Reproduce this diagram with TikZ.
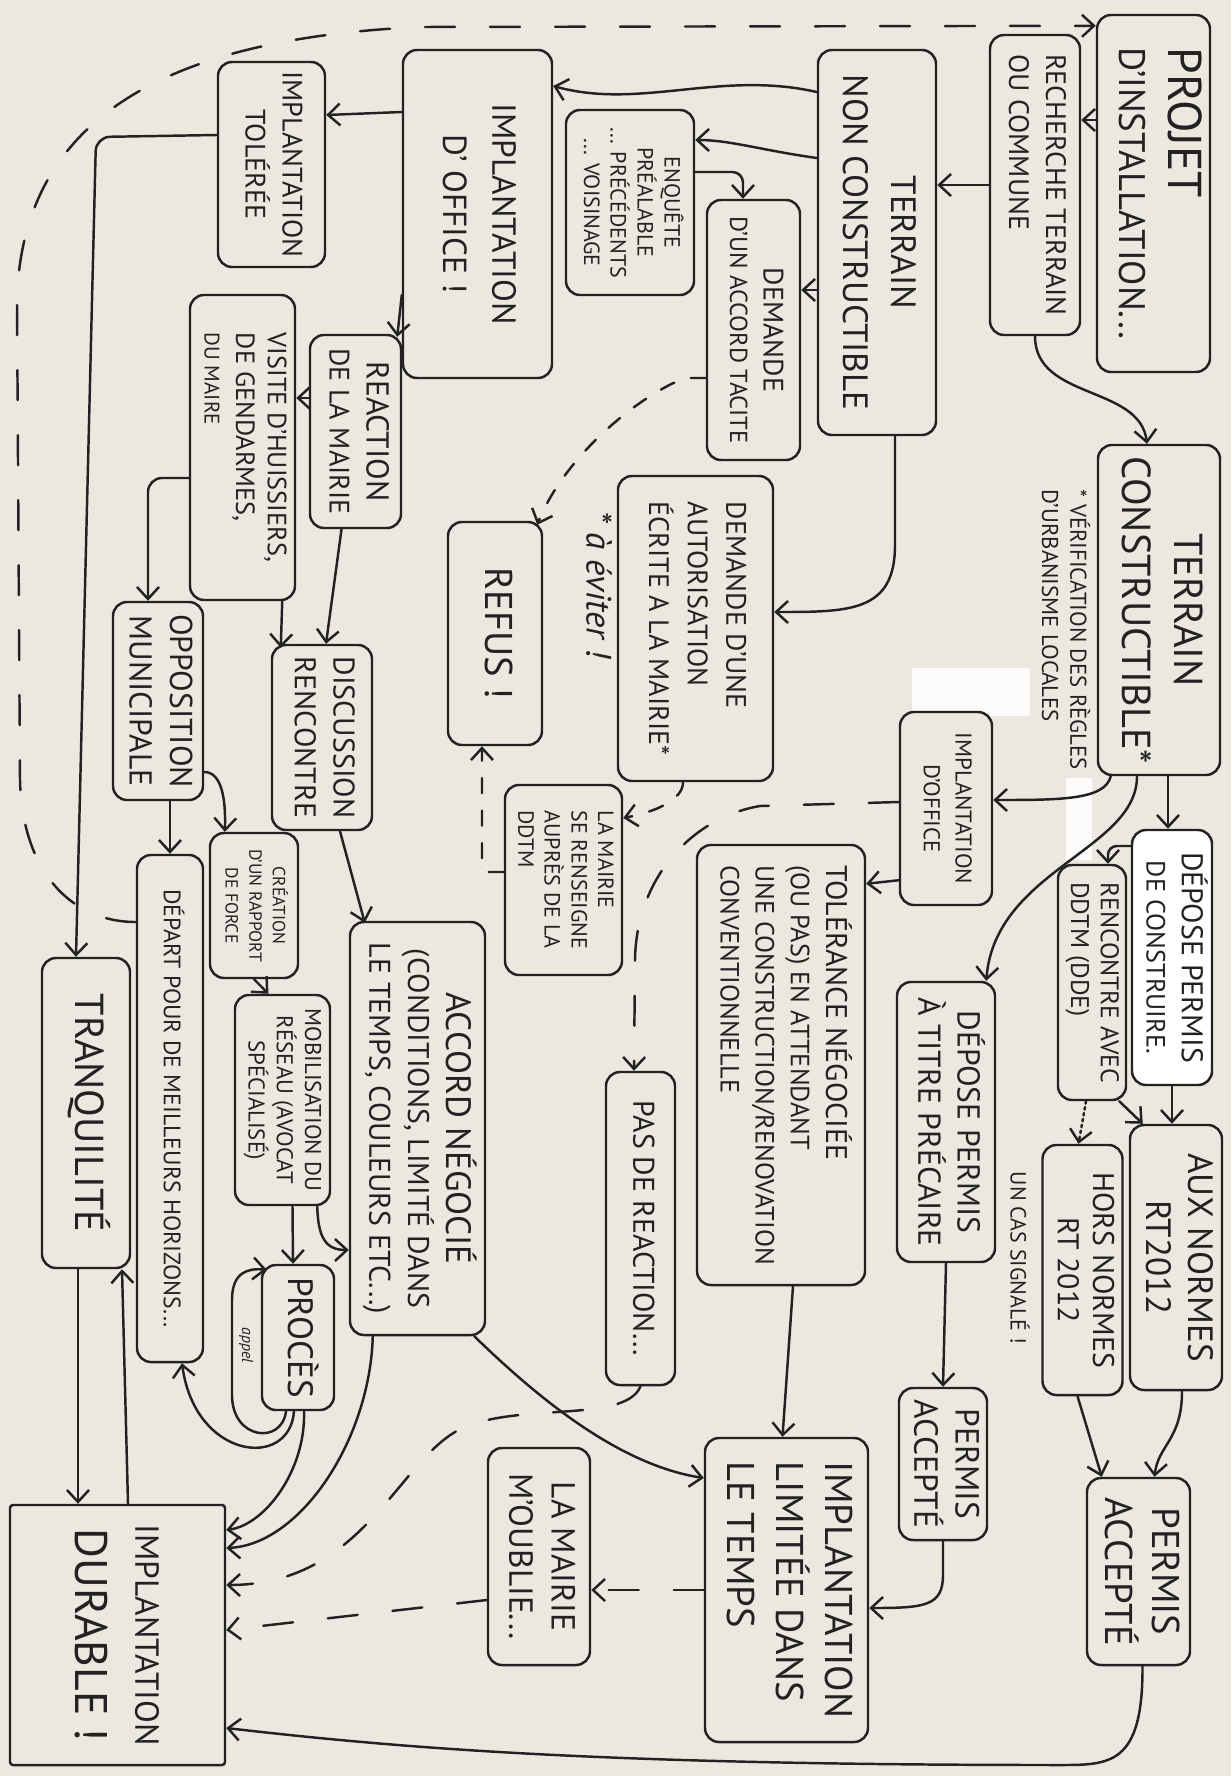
\documentclass[tikz,border=0pt]{standalone}
\usepackage{fontspec}
\setmainfont{PT Sans}
\usetikzlibrary{calc,arrows.meta}
\definecolor{paper}{HTML}{ECE8DF}
\definecolor{ink}{HTML}{222222}
\newcommand{\vt}[2][c]{\rotatebox{-90}{\begin{tabular}{@{}#1@{}}#2\end{tabular}}}
\newcommand{\fs}[2]{\fontsize{#1}{#2}\selectfont}

\begin{document}
\begin{tikzpicture}[x=0.2mm,y=-0.2mm,
    box/.style={draw=ink,fill=paper,rounded corners=2.8mm,line width=1.4pt,inner sep=0pt,text=ink},
    arr/.style={draw=ink,line width=1.4pt,line cap=round,-{Straight Barb[length=2.4mm,width=4.4mm]}},
    dsh/.style={arr,dash pattern=on 6mm off 7mm},
    dshs/.style={arr,dash pattern=on 3mm off 3.5mm},
    note/.style={inner sep=0pt,text=ink}]
                      \fill[paper] (0,0) rectangle (1231,1776);
                      \useasboundingbox (0,0) rectangle (1231,1776);
                      \fill[white,opacity=0.85] (912,668) rectangle (1030,716);
                      \fill[white,opacity=0.85] (1066,778) rectangle (1092,860);

                      \node[box,minimum width=22.6mm,minimum height=71.4mm,font=\fs{21}{28}] (projet) at (1153.5,193.5) {\vt[l]{{\fs{27}{28}PROJET}\\D'INSTALLATION...}};
                      \node[box,minimum width=18mm,minimum height=60mm,font=\fs{16}{21}] (recherche) at (1035,185) {\vt[l]{RECHERCHE TERRAIN\\OU COMMUNE}};
                      \node[box,minimum width=23.6mm,minimum height=77mm,font=\fs{20}{27}] (nonconstr) at (877,242.5) {\vt{TERRAIN\\NON CONSTRUCTIBLE}};
                      \node[box,minimum width=29.8mm,minimum height=65.6mm,font=\fs{19}{28}] (office1) at (477.5,214) {\vt{IMPLANTATION\\D' OFFICE !}};
                      \node[box,minimum width=21.4mm,minimum height=41mm,font=\fs{16}{21}] (toleree) at (271.5,164.5) {\vt{IMPLANTATION\\TOLÉRÉE}};
                      \node[box,minimum width=25.6mm,minimum height=37mm,font=\fs{12.5}{15}] (enquete) at (630,202.5) {\vt{ENQUÊTE\\PRÉALABLE\\... PRÉCÉDENTS\\... VOISINAGE}};
                      \node[box,minimum width=18.6mm,minimum height=52mm,font=\fs{14}{19}] (tacite) at (753.5,330) {\vt{{\fs{16}{19}DEMANDE}\\D'UN ACCORD TACITE}};
                      \node[box,minimum width=31mm,minimum height=61mm,font=\fs{16}{22}] (ecrite) at (695.5,628.5) {\vt[l]{DEMANDE D'UNE\\AUTORISATION\\ÉCRITE A LA MAIRIE*}};
                      \node[box,minimum width=18.8mm,minimum height=44.6mm,font=\fs{22}{26}] (refus) at (495,633.5) {\vt{REFUS !}};
                      \node[box,minimum width=18.2mm,minimum height=38.6mm,font=\fs{16}{21}] (reaction) at (355.5,431.5) {\vt{{\fs{18}{21}REACTION}\\DE LA MAIRIE}};
                      \node[box,minimum width=21mm,minimum height=61mm,font=\fs{15}{18}] (visite) at (242.5,447.5) {\vt[l]{VISITE D'HUISSIERS,\\DE GENDARMES,\\{\fs{12}{18}DU MAIRE}}};
                      \node[box,minimum width=18mm,minimum height=39.6mm,font=\fs{18}{23}] (opposition) at (158,701) {\vt{OPPOSITION\\MUNICIPALE}};
                      \node[box,minimum width=20mm,minimum height=37mm,font=\fs{17}{22}] (discussion) at (322,737.5) {\vt{DISCUSSION\\RENCONTRE}};
                      \node[box,minimum width=17.6mm,minimum height=29mm,font=\fs{10}{13.5}] (creation) at (254,905.5) {\vt{CRÉATION\\D'UN RAPPORT\\DE FORCE}};
                      \node[box,minimum width=13.2mm,minimum height=101.4mm,font=\fs{13.5}{16}] (depart) at (170,1108.5) {\vt[l]{DÉPART POUR DE MEILLEURS HORIZONS...}};
                      \node[box,minimum width=17.6mm,minimum height=62mm,font=\fs{23}{26}] (tranq) at (86,1113) {\vt{TRANQUILITÉ}};
                      \node[box,minimum width=19mm,minimum height=42mm,font=\fs{13}{16}] (mobil) at (282.5,1100) {\vt{MOBILISATION DU\\RÉSEAU (AVOCAT\\SPÉCIALISÉ)}};
                      \node[box,minimum width=14.4mm,minimum height=29mm,font=\fs{20}{22}] (proces) at (298,1337.5) {\vt{PROCÈS}};
                      \node[box,minimum width=27mm,minimum height=82.6mm,font=\fs{17}{22}] (accord) at (417.5,1128.5) {\vt{{\fs{20}{22}ACCORD NÉGOCIÉ}\\(CONDITIONS, LIMITÉ DANS\\LE TEMPS, COULEURS ETC...)}};
                      \node[box,minimum width=23.4mm,minimum height=38mm,font=\fs{12.5}{15}] (ddtmrens) at (563.5,880) {\vt[l]{LA MAIRIE\\SE RENSEIGNE\\AUPRÈS DE LA\\DDTM}};
                      \node[box,minimum width=13.8mm,minimum height=62.6mm,font=\fs{17}{20}] (pasreac) at (640.5,1228.5) {\vt{PAS DE REACTION...}};
                      \node[box,minimum width=33.6mm,minimum height=88mm,font=\fs{15}{20}] (tolerance) at (781,1065) {\vt[l]{{\fs{17}{20}TOLÉRANCE NÉGOCIÉE}\\(OU PAS) EN ATTENDANT\\UNE CONSTRUCTION/RENOVATION\\CONVENTIONNELLE}};
                      \node[box,minimum width=18.4mm,minimum height=38.6mm,font=\fs{13}{18}] (office2) at (946,808.5) {\vt{IMPLANTATION\\D'OFFICE}};
                      \node[box,minimum width=24.4mm,minimum height=66mm,font=\fs{23}{30}] (constr) at (1159,610) {\vt{TERRAIN\\CONSTRUCTIBLE*}};
                      \node[box,fill=white,minimum width=16mm,minimum height=51mm,font=\fs{15}{20}] (depose) at (1172,957.5) {\vt{{\fs{17}{20}DÉPOSE PERMIS}\\DE CONSTRUIRE.}};
                      \node[box,minimum width=13.6mm,minimum height=47mm,font=\fs{14.5}{17}] (ddtm) at (1092,982.5) {\vt[l]{RENCONTRE AVEC\\DDTM (DDE)}};
                      \node[box,minimum width=19.6mm,minimum height=56mm,font=\fs{18}{22}] (precaire) at (946,1122) {\vt{DÉPOSE PERMIS\\À TITRE PRÉCAIRE}};
                      \node[box,minimum width=18.4mm,minimum height=53mm,font=\fs{20}{24}] (aux) at (1176,1257.5) {\vt{AUX NORMES\\RT2012}};
                      \node[box,minimum width=16mm,minimum height=50mm,font=\fs{17}{20}] (hors) at (1082.5,1270) {\vt{HORS NORMES\\RT 2012}};
                      \node[box,minimum width=20.6mm,minimum height=37.4mm,font=\fs{22}{27}] (accepte1) at (1138.5,1571.5) {\vt{PERMIS\\ACCEPTÉ}};
                      \node[box,minimum width=17.6mm,minimum height=30.4mm,font=\fs{19}{23}] (accepte2) at (943,1464) {\vt{PERMIS\\ACCEPTÉ}};
                      \node[box,minimum width=32.6mm,minimum height=60.8mm,font=\fs{22}{28}] (limitee) at (786.5,1590) {\vt[l]{IMPLANTATION\\LIMITÉE DANS\\LE TEMPS}};
                      \node[box,minimum width=20.4mm,minimum height=43.4mm,font=\fs{19}{24}] (oublie) at (539,1556.5) {\vt{LA MAIRIE\\M'OUBLIE...}};
                      \node[box,rounded corners=0.6mm,minimum width=43mm,minimum height=52mm,font=\fs{19}{34}] (durable) at (117.5,1635) {\vt{IMPLANTATION\\{\fs{26}{34}DURABLE !}}};

                      \node[note,font=\fs{13}{16}] (verif) at (1062,630) {\vt[l]{* VÉRIFICATION DES RÈGLES\\D'URBANISME LOCALES}};
                      \node[note,font=\itshape\fs{20}{22}] (eviter) at (599,585) {\rotatebox{-90}{* à éviter !}};
                      \node[note,font=\fs{12.5}{14}] (uncas) at (1020,1258) {\rotatebox{-90}{UN CAS SIGNALÉ !}};
                      \node[note,font=\itshape\fs{9}{10}] (appel) at (246,1345) {\rotatebox{-90}{appel}};

                      \draw[arr] (projet.west |- 0,120) -- (recherche.east |- 0,120);
                      \draw[arr] (recherche.west |- 0,185) -- (nonconstr.east |- 0,185);
                      \draw[arr] (recherche.south) .. controls (1035,400) and (1140,385) .. ($(constr.north)+(-12,0)$);
                      \draw[arr] (nonconstr.west |- 0,92) .. controls (720,70) and (640,110) .. (office1.east |- 0,86);
                      \draw[arr] (nonconstr.west |- 0,158) .. controls (760,150) and (730,140) .. (enquete.east |- 0,140);
                      \draw[arr,rounded corners=6] (enquete.east |- 0,172) -- (743,172) -- (tacite.north -| 743,0);
                      \draw[arr] (nonconstr.west |- 0,290) -- (tacite.east |- 0,290);
                      \draw[arr] (nonconstr.south -| 895,0) -- (895,545) .. controls (895,612) and (850,612) .. (ecrite.east |- 0,612);
                      \draw[arr] (office1.west |- 0,295) -- ($(reaction.north east)+(-5,3)$);
                      \draw[arr] (office1.west |- 0,112) -- (toleree.east |- 0,115);
                      \draw[arr,rounded corners=8] (toleree.west |- 0,135) -- (96,137) -- (tranq.north -| 76,0);
                      \draw[arr] (reaction.west |- 0,398) -- (visite.east |- 0,398);
                      \draw[arr] ($(reaction.south)+(-14,0)$) -- ($(discussion.north)+(4,0)$);
                      \draw[arr] ($(visite.south east)+(-14,0)$) -- ($(discussion.north west)+(10,4)$);
                      \draw[arr,rounded corners=8] (visite.west |- 0,478) -- (148,478) -- (opposition.north -| 148,0);
                      \draw[arr] (opposition.south -| 170,0) -- (depart.north -| 170,0);
                      \draw[arr] (opposition.east |- 0,772) .. controls (222,772) and (226,800) .. ($(creation.north west)+(16,0)$);
                      \draw[arr] ($(discussion.south)+(18,0)$) -- ($(accord.north west)+(16,2)$);
                      \draw[arr] (creation.south) -- ($(mobil.north)+(-14,0)$);
                      \draw[arr] ($(mobil.south)+(10,0)$) -- ($(proces.north)+(-5,0)$);
                      \draw[arr] ($(mobil.south east)+(-14,0)$) .. controls (318,1238) and (326,1250) .. (accord.west |- 0,1250);
                      \draw[arr] ($(proces.south)+(-12,0)$) .. controls (282,1445) and (232,1440) .. (232,1395) -- (232,1300) .. controls (232,1272) and (248,1268) .. ($(proces.north west)+(6,6)$);
                      \draw[arr] ($(proces.south)+(-4,0)$) .. controls (290,1470) and (195,1460) .. ($(depart.south)+(12,0)$);
                      \draw[arr] ($(proces.south)+(6,0)$) .. controls (306,1470) and (265,1525) .. (durable.east |- 0,1530);
                      \draw[arr] ($(accord.south west)+(24,0)$) .. controls (370,1440) and (300,1545) .. (durable.east |- 0,1548);
                      \draw[arr] ($(accord.south east)+(-12,0)$) .. controls (540,1400) and (620,1465) .. (limitee.west |- 0,1478);
                      \draw[arr] (tranq.south -| 78,0) -- (durable.north -| 78,0);
                      \draw[arr] (durable.north -| 128,0) -- (tranq.south -| 122,0);
                      \draw[arr] ($(accepte1.south)+(4,0)$) .. controls (1143,1765) and (1110,1765) .. (1060,1765) .. controls (600,1765) and (400,1748) .. (durable.east |- 0,1728);
                      \draw[arr] (accepte2.south) -- (943,1575) .. controls (943,1606) and (925,1608) .. (limitee.east |- 0,1608);
                      \draw[arr] (precaire.south) -- (accepte2.north);
                      \draw[arr] ($(aux.south)+(6,0)$) .. controls (1182,1440) and (1158,1445) .. ($(accepte1.north)+(16,0)$);
                      \draw[arr] ($(hors.south)+(-5,0)$) -- ($(accepte1.north west)+(16,0)$);
                      \draw[arr] (constr.south -| 1168,0) -- (depose.north -| 1168,0);
                      \draw[arr,rounded corners=5] (depose.west |- 0,846) -- (1108,846) -- ($(ddtm.north)+(16,0)$);
                      \draw[arr] (depose.south -| 1172,0) -- (aux.north -| 1172,0);
                      \draw[arr] ($(ddtm.south east)+(-8,0)$) -- ($(aux.north west)+(14,0)$);
                      \draw[arr,dotted] ($(ddtm.south)+(-6,0)$) -- ($(hors.north)+(-4,0)$);
                      \draw[arr] ($(constr.south west)+(14,0)$) .. controls (1105,800) and (1060,800) .. (office2.east |- 0,800);
                      \draw[arr] ($(constr.south)+(-22,0)$) .. controls (1137,850) and (995,870) .. ($(precaire.north east)+(-10,0)$);
                      \draw[arr] ($(office2.south west)+(0,-26)$) -- ($(tolerance.north east)+(0,40)$);
                      \draw[arr] ($(tolerance.south)+(12,0)$) -- ($(limitee.north)+(-4,0)$);

                      \draw[dsh] (depart.west |- 0,922) .. controls (70,922) and (22,870) .. (20,780) -- (17,300) .. controls (22,110) and (180,38) .. (420,27) -- ($(projet.north west)+(0,12)$);
                      \draw[dsh] (office2.west |- 0,802) -- (760,806) .. controls (690,818) and (636,880) .. (635,960) -- (pasreac.north -| 634,0);
                      \draw[dshs] (ecrite.south -| 683,0) .. controls (683,800) and (655,812) .. (ddtmrens.east |- 0,818);
                      \draw[dshs,rounded corners=4] (ddtmrens.west |- 0,872) -- (482,872) -- (refus.south -| 482,0);
                      \draw[dshs] (tacite.west |- 0,378) -- (685,378) .. controls (640,395) and (565,455) .. ($(refus.north east)+(-6,4)$);
                      \draw[dsh] (pasreac.south) .. controls (625,1425) and (510,1400) .. (455,1432) .. controls (395,1468) and (360,1585) .. (durable.east |- 0,1585);
                      \draw[dsh] (limitee.west |- 0,1590) -- (oublie.east |- 0,1590);
                      \draw[dsh] (oublie.west |- 0,1600) -- (durable.east |- 0,1630);
                  \end{tikzpicture}
\end{document}
